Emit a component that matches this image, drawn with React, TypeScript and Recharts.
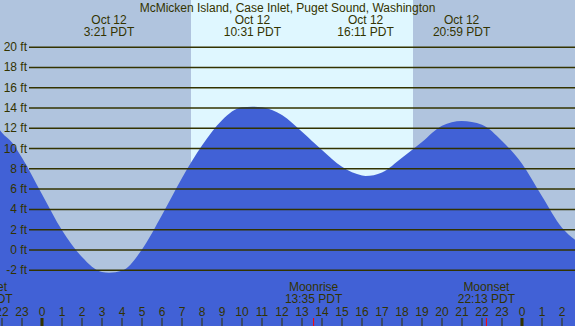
import { ComposedChart, Area, XAxis, YAxis, ReferenceArea, ReferenceLine, ReferenceDot } from 'recharts'

const W = 575
const H = 326
const X_MIN = -2.1
const X_MAX = 26.65
const Y_MIN = -7.5
const Y_MAX = 24.65
const GRID_START = -0.65

const INK = '#333300'
const NIGHT = '#b0c4de'
const DAY = '#dff7ff'
const WATER = '#4161d6'
const FONT = '"Liberation Sans", Arial, sans-serif'

const title = 'McMicken Island, Case Inlet, Puget Sound, Washington'

// tide height (ft), hours from midnight Oct 12
const tideHours = [-2.1, -2, -1.5, -1, 0, 1, 2, 3, 3.35, 4, 5, 6, 7, 8, 9, 10, 10.52, 11, 12, 13, 14, 15, 16, 16.18, 17, 18, 19, 20, 20.98, 22, 23, 24, 25, 26, 26.65]
const tideFeet = [11.8, 11.55, 10.6, 9.1, 5.5, 1.95, -0.7, -2.18, -2.24, -2.05, 0.05, 3.45, 7.1, 10.3, 12.8, 14.08, 14.13, 14.08, 13.3, 11.65, 9.85, 8.2, 7.35, 7.3, 7.65, 9.1, 10.65, 12.25, 12.72, 12.35, 10.75, 8.5, 5.3, 2.2, 1.0]

const extremeHours = [3.35, 10.52, 16.18, 20.98]
const extremeDates = ['Oct 12', 'Oct 12', 'Oct 12', 'Oct 12']
const extremeTimes = ['3:21 PDT', '10:31 PDT', '16:11 PDT', '20:59 PDT']

const sunrise = 7.45
const sunset = 18.55

const moonHours = [-2.9, 13.58, 22.22]
const moonNames = ['Moonset', 'Moonrise', 'Moonset']
const moonTimes = ['21:06 PDT', '13:35 PDT', '22:13 PDT']

const gridFeet = [-2, 0, 2, 4, 6, 8, 10, 12, 14, 16, 18, 20]
const hourTicks = [-2, -1, 0, 1, 2, 3, 4, 5, 6, 7, 8, 9, 10, 11, 12, 13, 14, 15, 16, 17, 18, 19, 20, 21, 22, 23, 24, 25, 26]

const tide = tideHours.map((hour, i) => ({ hour, ft: tideFeet[i] }))

const bands = [
  { x1: X_MIN, x2: sunrise, fill: NIGHT },
  { x1: sunrise, x2: sunset, fill: DAY },
  { x1: sunset, x2: X_MAX, fill: NIGHT },
]

const txt = { fontSize: 12, fill: INK, fontFamily: FONT }

export default function App() {
  return (
    <div style={{ position: 'absolute', left: 0, top: 0, width: W, height: H }}>
      <ComposedChart width={W} height={H} data={tide} margin={{ top: 0, right: 0, bottom: 0, left: 0 }} style={{ fontFamily: FONT }}>
        <XAxis dataKey="hour" type="number" domain={[X_MIN, X_MAX]} allowDataOverflow hide />
        <YAxis type="number" domain={[Y_MIN, Y_MAX]} allowDataOverflow hide />
        {bands.map((b, i) => (
          <ReferenceArea
            key={'band' + i}
            x1={b.x1}
            x2={b.x2}
            y1={Y_MIN}
            y2={Y_MAX}
            fill={b.fill}
            fillOpacity={1}
            stroke="none"
            ifOverflow="visible"
            zIndex={-100}
          />
        ))}
        <Area
          type="monotone"
          dataKey="ft"
          baseValue={Y_MIN}
          fill={WATER}
          fillOpacity={1}
          stroke="none"
          isAnimationActive={false}
          dot={false}
          activeDot={false}
        />
        {gridFeet.map((f) => (
          <ReferenceLine
            key={'g' + f}
            segment={[{ x: GRID_START, y: f }, { x: X_MAX, y: f }]}
            stroke={INK}
            strokeWidth={1.5}
            ifOverflow="visible"
            label={(p: any) => (
              <text x={p.viewBox.x - 2} y={p.viewBox.y + 4} textAnchor="end" {...txt}>
                {f} ft
              </text>
            )}
          />
        ))}
        {hourTicks.map((h) => {
          const label = ((h % 24) + 24) % 24
          return (
            <ReferenceDot
              key={'h' + h}
              x={h}
              y={Y_MIN}
              r={0}
              ifOverflow="visible"
              shape={(p: any) => (
                <g>
                  <line x1={p.cx} x2={p.cx} y1={p.cy - 8} y2={p.cy} stroke={INK} strokeWidth={label === 0 ? 3 : 1} />
                  <text x={p.cx} y={p.cy - 10} textAnchor="middle" {...txt}>
                    {label}
                  </text>
                </g>
              )}
            />
          )
        })}
        <ReferenceDot
          x={(X_MIN + X_MAX) / 2}
          y={Y_MAX}
          r={0}
          ifOverflow="visible"
          shape={(p: any) => (
            <text x={p.cx} y={p.cy + 12} textAnchor="middle" {...txt}>
              {title}
            </text>
          )}
        />
        {extremeHours.map((h, i) => (
          <ReferenceDot
            key={'e' + i}
            x={h}
            y={Y_MAX}
            r={0}
            ifOverflow="visible"
            shape={(p: any) => (
              <g>
                <text x={p.cx} y={p.cy + 24} textAnchor="middle" {...txt}>
                  {extremeDates[i]}
                </text>
                <text x={p.cx} y={p.cy + 36} textAnchor="middle" {...txt}>
                  {extremeTimes[i]}
                </text>
              </g>
            )}
          />
        ))}
        {moonHours.map((h, i) => (
          <ReferenceDot
            key={'m' + i}
            x={h}
            y={Y_MIN}
            r={0}
            ifOverflow="visible"
            shape={(p: any) => (
              <g>
                <line x1={p.cx} x2={p.cx} y1={p.cy - 8} y2={p.cy} stroke="#ff0000" strokeWidth={1} />
                <text x={p.cx} y={p.cy - 35} textAnchor="middle" {...txt}>
                  {moonNames[i]}
                </text>
                <text x={p.cx} y={p.cy - 23} textAnchor="middle" {...txt}>
                  {moonTimes[i]}
                </text>
              </g>
            )}
          />
        ))}
      </ComposedChart>
    </div>
  )
}
